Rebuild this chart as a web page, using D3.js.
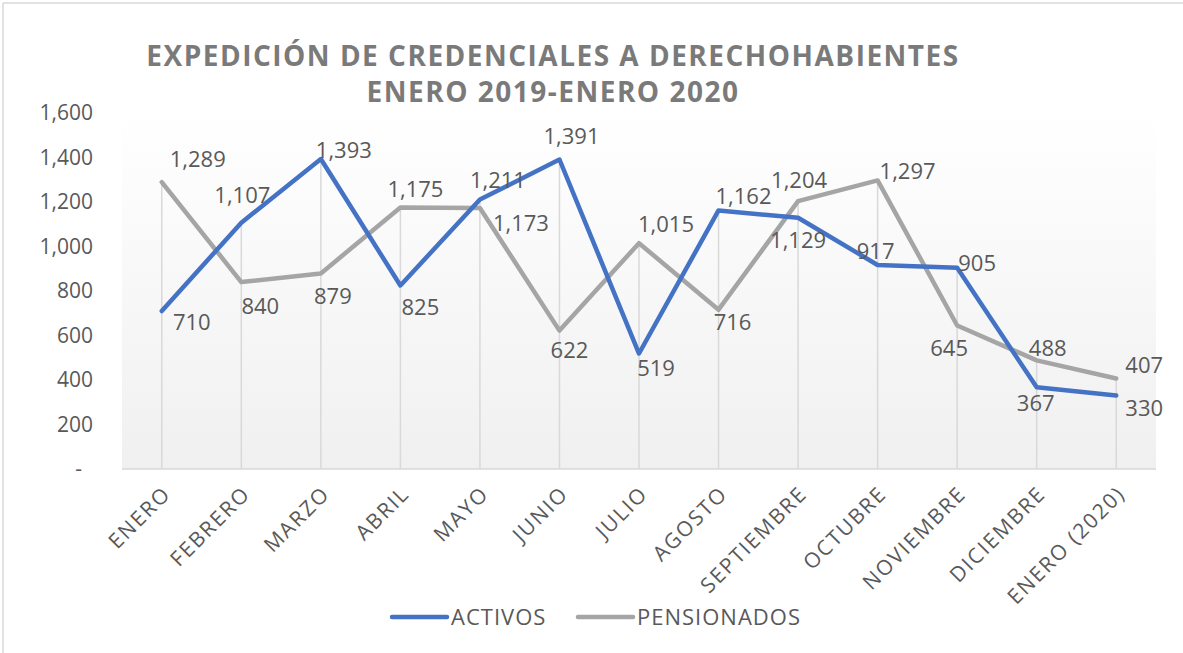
<!DOCTYPE html>
<html>
<head>
<meta charset="utf-8">
<script src="https://cdn.jsdelivr.net/npm/d3@7"></script>
<style>
  body { margin: 0; background: #fff; }
  svg text { font-family: "Open Sans", sans-serif; fill: #595959; }
</style>
</head>
<body>
<svg id="chart" width="1183" height="653"></svg>
<script>
// data
var months = ["ENERO", "FEBRERO", "MARZO", "ABRIL", "MAYO", "JUNIO", "JULIO",
              "AGOSTO", "SEPTIEMBRE", "OCTUBRE", "NOVIEMBRE", "DICIEMBRE", "ENERO (2020)"];
var activos = [710, 1107, 1393, 825, 1211, 1391, 519, 1162, 1129, 917, 905, 367, 330];
var pensionados = [1289, 840, 879, 1175, 1173, 622, 1015, 716, 1204, 1297, 645, 488, 407];
var yTicks = [0, 200, 400, 600, 800, 1000, 1200, 1400, 1600];

// label offsets (dx, dy) from each point, as the original placed them
var activosLabelPos = [[30, 11], [1, -27], [23, -9], [20, 22], [18, -19], [12, -23], [17, 15],
                       [25, -14], [0, 23], [-2, -14], [20, -4], [-1, 16], [28, 13]];
var pensionadosLabelPos = [[36, -23], [19, 24], [12, 23], [15, -18], [41, 15], [10, 20], [27, -19],
                           [14, 13], [1, -21], [30, -9], [-8, 23], [11, -12], [28, -13]];

var svg = d3.select("#chart");
var plotLeft = 122, plotRight = 1156, plotTop = 113, plotBottom = 469;

var x = d3.scalePoint().domain(months).range([plotLeft, plotRight]).padding(0.5);
var y = d3.scaleLinear().domain([0, 1600]).range([plotBottom, plotTop]);
var fmt = d3.format(",");

// border
svg.append("line").attr("x1", 3).attr("x2", 3).attr("y1", 3).attr("y2", 653)
    .style("stroke", "#d9d9d9").style("stroke-width", 1.5);
svg.append("line").attr("x1", 3).attr("x2", 1183).attr("y1", 3).attr("y2", 3)
    .style("stroke", "#d9d9d9").style("stroke-width", 1.5);

// plot background gradient
var grad = svg.append("defs").append("linearGradient")
    .attr("id", "bg").attr("x1", 0).attr("x2", 0).attr("y1", 0).attr("y2", 1);
grad.append("stop").attr("offset", "0%").attr("stop-color", "#ffffff");
grad.append("stop").attr("offset", "100%").attr("stop-color", "#f0f0f0");

svg.append("rect")
    .attr("x", plotLeft).attr("y", plotTop)
    .attr("width", plotRight - plotLeft).attr("height", plotBottom - plotTop)
    .style("fill", "url(#bg)");

// title
var title = svg.append("text")
    .style("text-anchor", "middle")
    .style("font-weight", "bold")
    .style("font-size", "28px")
    .style("letter-spacing", "1.5px")
    .style("fill", "#7a7a7a");
title.append("tspan").attr("x", 553).attr("y", 66).text("EXPEDICIÓN DE CREDENCIALES A DERECHOHABIENTES");
title.append("tspan").attr("x", 553).attr("y", 102).text("ENERO 2019-ENERO 2020");

// drop lines
svg.selectAll(".drop")
    .data(months)
    .enter().append("line")
    .attr("class", "drop")
    .attr("x1", function (d) { return x(d); })
    .attr("x2", function (d) { return x(d); })
    .attr("y1", y(0))
    .attr("y2", function (d, i) { return y(Math.max(activos[i], pensionados[i])); })
    .style("stroke", "#d9d9d9")
    .style("stroke-width", 1.5);

// x axis line
svg.append("line")
    .attr("x1", plotLeft).attr("x2", plotRight)
    .attr("y1", y(0)).attr("y2", y(0))
    .style("stroke", "#d9d9d9").style("stroke-width", 1.5);

// y tick labels
svg.selectAll(".ytick")
    .data(yTicks)
    .enter().append("text")
    .attr("class", "ytick")
    .attr("x", function (d) { return d === 0 ? 82 : 93; })
    .attr("y", function (d) { return y(d); })
    .attr("dy", "0.35em")
    .style("text-anchor", "end")
    .style("font-size", "21px")
    .text(function (d) { return d === 0 ? "-" : fmt(d); });

// x labels
svg.selectAll(".xlabel")
    .data(months)
    .enter().append("text")
    .attr("class", "xlabel")
    .attr("transform", function (d) { return "translate(" + (x(d) + 5) + "," + 490 + ") rotate(-45)"; })
    .attr("dy", "0.35em")
    .style("text-anchor", "end")
    .style("font-size", "21px")
    .style("letter-spacing", "1.8px")
    .text(function (d) { return d; });

// lines
var line = d3.line()
    .x(function (d, i) { return x(months[i]); })
    .y(function (d) { return y(d); });

svg.append("path").datum(pensionados)
    .attr("d", line)
    .style("fill", "none").style("stroke", "#a5a5a5").style("stroke-width", 4.5)
    .style("stroke-linejoin", "round").style("stroke-linecap", "round");

svg.append("path").datum(activos)
    .attr("d", line)
    .style("fill", "none").style("stroke", "#4472c4").style("stroke-width", 4.5)
    .style("stroke-linejoin", "round").style("stroke-linecap", "round");

// data labels
var addLabels = function (values, pos, cls) {
    svg.selectAll("." + cls)
        .data(values)
        .enter().append("text")
        .attr("class", cls)
        .attr("x", function (d, i) { return x(months[i]) + pos[i][0]; })
        .attr("y", function (d, i) { return y(d) + pos[i][1]; })
        .attr("dy", "0.35em")
        .style("text-anchor", "middle")
        .style("font-size", "22px")
        .text(function (d) { return fmt(d); });
}
addLabels(pensionados, pensionadosLabelPos, "lblP");
addLabels(activos, activosLabelPos, "lblA");

// legend
var legend = [["ACTIVOS", "#4472c4", 392], ["PENSIONADOS", "#a5a5a5", 578]];
legend.forEach(function (l) {
    svg.append("line")
        .attr("x1", l[2]).attr("x2", l[2] + 55)
        .attr("y1", 617).attr("y2", 617)
        .style("stroke", l[1]).style("stroke-width", 4.5).style("stroke-linecap", "round");
    svg.append("text")
        .attr("x", l[2] + 59).attr("y", 617)
        .attr("dy", "0.35em")
        .style("font-size", "22px")
        .style("letter-spacing", "1px")
        .text(l[0]);
});
</script>
</body>
</html>
